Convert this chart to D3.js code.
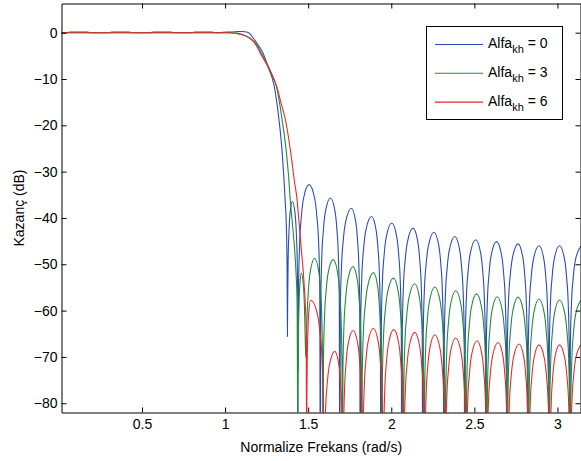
<!DOCTYPE html>
<html>
<head>
<meta charset="utf-8">
<script src="https://cdn.jsdelivr.net/npm/d3@7"></script>
<style>
  body { margin: 0; background: #fff; }
  svg { font-family: "Liberation Sans", Arial, sans-serif; }
</style>
</head>
<body>
<script>
// --- data (frequency in rad/s, gain in dB) ---
const xTicks = [0.5, 1, 1.5, 2, 2.5, 3]
const yTicks = [0, -10, -20, -30, -40, -50, -60, -70, -80]

const seriesNames = ["0", "3", "6"]

// passband + main lobe roll-off
const blueMainF = [0.016, 0.05, 0.07, 0.17, 0.19, 0.3, 0.32, 0.42, 0.44, 0.55, 0.57, 0.67, 0.69, 0.8, 0.82, 0.92, 0.94, 1.06, 1.10, 1.14, 1.168, 1.198, 1.228, 1.258, 1.296, 1.311, 1.325, 1.344, 1.355, 1.361, 1.367, 1.373]
const blueMainDb = [0, 0, 0.15, 0.15, 0, 0, 0.15, 0.15, 0, 0, 0.15, 0.15, 0, 0, 0.15, 0.15, 0, 0.2, 0.25, 0.05, -1.1, -2.6, -4.4, -7.3, -11.6, -15, -19, -26, -32, -36, -40, -50.5]
const greenMainF = [0.016, 1.04, 1.068, 1.118, 1.168, 1.198, 1.220, 1.261, 1.293, 1.309, 1.327, 1.343, 1.369, 1.382, 1.392, 1.407, 1.419, 1.427, 1.433]
const greenMainDb = [0, 0, -0.1, -0.6, -1.7, -3.0, -4.6, -7.3, -10, -11.6, -15, -18.8, -25.9, -31, -36, -42, -47, -52, -57.7]
const redMainF = [0.016, 1.02, 1.038, 1.098, 1.148, 1.185, 1.211, 1.245, 1.275, 1.311, 1.337, 1.363, 1.395, 1.419, 1.433, 1.442, 1.459, 1.475, 1.488]
const redMainDb = [0, 0, -0.05, -0.4, -1.15, -2.6, -4.4, -6.5, -8.6, -11.6, -15.2, -18.8, -25.9, -32.5, -36, -39.7, -46.9, -54, -64]

// stopband: nulls (-100 = goes out the bottom) and lobe peaks
const blueNullF = [1.375, 1.439, 1.573, 1.690, 1.813, 1.937, 2.063, 2.189, 2.316, 2.442, 2.569, 2.695, 2.821, 2.948, 3.074]
const blueNullDb = [-65.6, -73.2, -100, -100, -100, -100, -100, -100, -100, -100, -100, -100, -100, -100, -100]
const bluePeakF = [1.405, 1.505, 1.634, 1.760, 1.881, 2.003, 2.131, 2.257, 2.382, 2.508, 2.633, 2.763, 2.889, 3.012, 3.1416]
const bluePeakDb = [-36.4, -32.8, -35.7, -37.9, -39.7, -41.1, -42.2, -43.1, -44.0, -44.7, -45.1, -45.6, -46.0, -46.0, -46.1]

const greenNullF = [1.439, 1.485, 1.589, 1.706, 1.822, 1.943, 2.072, 2.198, 2.325, 2.450, 2.575, 2.699, 2.826, 2.951, 3.077]
const greenNullDb = [-100, -70, -100, -100, -100, -100, -100, -100, -100, -100, -100, -100, -100, -100, -100]
const greenPeakF = [1.459, 1.539, 1.650, 1.770, 1.893, 2.013, 2.141, 2.262, 2.388, 2.513, 2.637, 2.763, 2.889, 3.012, 3.1416]
const greenPeakDb = [-51.9, -48.7, -49.0, -50.5, -51.8, -53.0, -54.2, -54.9, -55.7, -56.4, -57.0, -57.1, -57.5, -57.7, -57.8]

const redNullF = [1.491, 1.595, 1.710, 1.828, 1.952, 2.075, 2.201, 2.325, 2.451, 2.575, 2.701, 2.827, 2.954, 3.077]
const redNullDb = [-100, -100, -100, -100, -100, -100, -100, -100, -100, -100, -100, -100, -100, -100]
const redPeakF = [1.515, 1.660, 1.770, 1.892, 2.015, 2.141, 2.262, 2.388, 2.516, 2.643, 2.769, 2.889, 3.012, 3.1416]
const redPeakDb = [-57.7, -68.8, -64.3, -63.8, -64.1, -64.7, -65.2, -65.9, -66.5, -66.9, -67.2, -67.4, -67.4, -67.4]

// arch profile of one side lobe: [fraction of the way from peak to null, dB below peak]
const lobeShape = [[0.5, -3], [0.7, -7], [0.85, -12.5], [0.95, -22]]

const colors = ["#2b4bb5", "#228b3c", "#e62a2a"]

const width = 581, height = 461
const plot = { left: 61.5, right: 581, top: 3.5, bottom: 412.5 }

const x = d3.scaleLinear().domain([0.0157, Math.PI]).range([plot.left, plot.right])
const y = d3.scaleLinear().domain([-82, 6.3]).range([plot.bottom, plot.top])

function buildSeries(mainF, mainDb, nullF, nullDb, peakF, peakDb) {
  let pts = mainF.map((f, i) => [f, mainDb[i]])
  for (let i = 0; i < peakF.length; i++) {
    const n0 = nullF[i], d0 = nullDb[i], pk = peakF[i], pd = peakDb[i]
    pts.push([n0, d0])
    lobeShape.slice().reverse().forEach(s => {
      if (pd + s[1] > d0) pts.push([pk - s[0] * (pk - n0), pd + s[1]])
    })
    pts.push([pk, pd])
    if (i + 1 < nullF.length) {
      const n1 = nullF[i + 1], d1 = nullDb[i + 1]
      lobeShape.forEach(s => {
        if (pd + s[1] > d1) pts.push([pk + s[0] * (n1 - pk), pd + s[1]])
      })
    }
  }
  if (nullF.length > peakF.length) pts.push([nullF[nullF.length - 1], nullDb[nullDb.length - 1]])
  return pts
}

const series = [
  buildSeries(blueMainF, blueMainDb, blueNullF, blueNullDb, bluePeakF, bluePeakDb),
  buildSeries(greenMainF, greenMainDb, greenNullF, greenNullDb, greenPeakF, greenPeakDb),
  buildSeries(redMainF, redMainDb, redNullF, redNullDb, redPeakF, redPeakDb)
]

const svg = d3.select("body")
  .append("svg")
  .attr("width", width)
  .attr("height", height)

svg.append("defs").append("clipPath")
  .attr("id", "plot-clip")
  .append("rect")
  .attr("x", plot.left)
  .attr("y", plot.top)
  .attr("width", plot.right - plot.left)
  .attr("height", plot.bottom - plot.top)

const line = d3.line()
  .x(d => x(d[0]))
  .y(d => y(d[1]))
  .curve(d3.curveMonotoneX)

svg.append("g")
  .attr("clip-path", "url(#plot-clip)")
  .selectAll("path")
  .data(series)
  .enter()
  .append("path")
  .attr("d", line)
  .attr("fill", "none")
  .attr("stroke", (d, i) => colors[i])
  .attr("stroke-width", 1.1)

// axes, MATLAB style box with inward ticks
const axisStyle = g => {
  g.attr("font-size", 14).attr("font-family", null)
  g.selectAll("line").attr("stroke", "#000")
  g.selectAll("path").attr("stroke", "#000")
  g.selectAll("text").attr("fill", "#000")
}

svg.append("g")
  .attr("transform", `translate(0,${plot.bottom})`)
  .call(d3.axisBottom(x).tickValues(xTicks).tickFormat(d3.format("")).tickSizeInner(-5).tickSizeOuter(0).tickPadding(7))
  .call(axisStyle)

svg.append("g")
  .attr("transform", `translate(0,${plot.top})`)
  .call(d3.axisTop(x).tickValues(xTicks).tickFormat("").tickSizeInner(-5).tickSizeOuter(0))
  .call(axisStyle)

svg.append("g")
  .attr("transform", `translate(${plot.left},0)`)
  .call(d3.axisLeft(y).tickValues(yTicks).tickSizeInner(-5).tickSizeOuter(0).tickPadding(4))
  .call(axisStyle)

svg.append("g")
  .attr("transform", `translate(${plot.right - 0.5},0)`)
  .call(d3.axisRight(y).tickValues(yTicks).tickFormat("").tickSizeInner(-5).tickSizeOuter(0))
  .call(axisStyle)

// axis titles
svg.append("text")
  .attr("x", (plot.left + plot.right) / 2)
  .attr("y", 452)
  .attr("text-anchor", "middle")
  .attr("font-size", 14)
  .text("Normalize Frekans (rad/s)")

svg.append("text")
  .attr("transform", `translate(24,${(plot.top + plot.bottom) / 2}) rotate(-90)`)
  .attr("text-anchor", "middle")
  .attr("font-size", 14)
  .text("Kazanç (dB)")

// legend
const legend = svg.append("g").attr("transform", "translate(426,26)")

legend.append("rect")
  .attr("x", 0.5)
  .attr("y", 0.5)
  .attr("width", 136)
  .attr("height", 93)
  .attr("fill", "#fff")
  .attr("stroke", "#000")

const item = legend.selectAll(".item")
  .data(seriesNames)
  .enter()
  .append("g")
  .attr("class", "item")
  .attr("transform", (d, i) => `translate(0,${18.5 + i * 28.8})`)

item.append("line")
  .attr("x1", 9)
  .attr("x2", 57)
  .attr("stroke", (d, i) => colors[i])
  .attr("stroke-width", 1.1)

const label = item.append("text")
  .attr("x", 62)
  .attr("y", 3.5)
  .attr("font-size", 14)

label.append("tspan").text("Alfa")
label.append("tspan").attr("dy", 5).attr("font-size", 11).text("kh")
label.append("tspan").attr("dy", -5).text(d => " = " + d)
</script>
</body>
</html>
